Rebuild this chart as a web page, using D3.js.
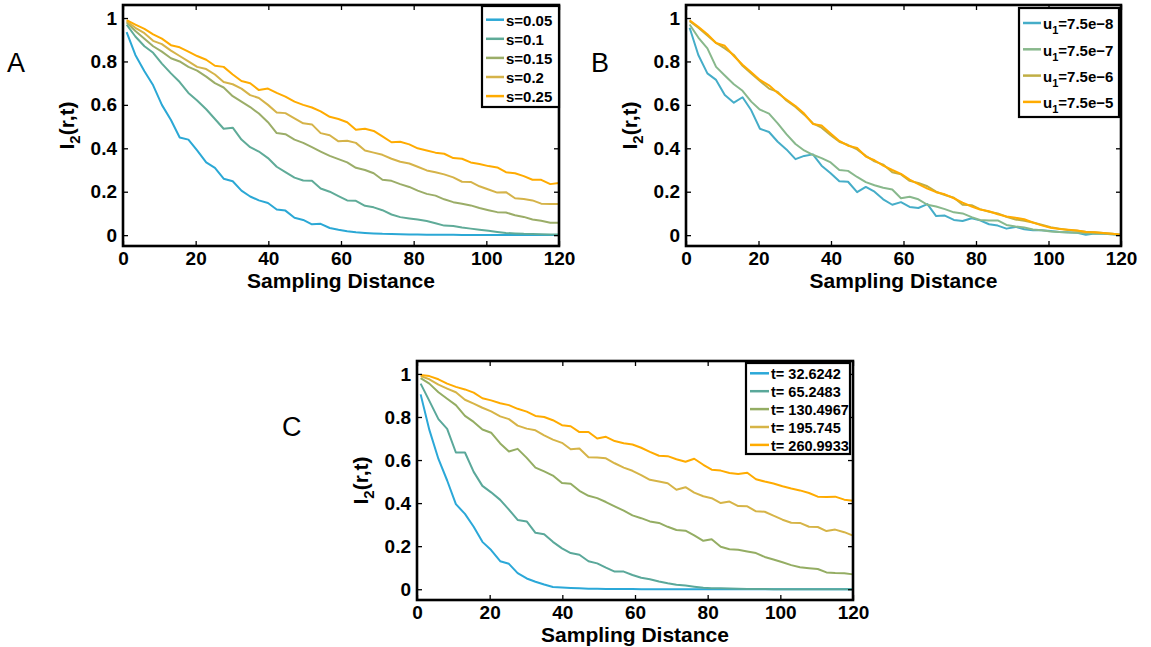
<!DOCTYPE html>
<html>
<head>
<meta charset="utf-8">
<script src="https://cdn.jsdelivr.net/npm/d3@7"></script>
<style>
  body { margin: 0; background: #fff; }
  svg text { font-family: "Liberation Sans", Arial, Helvetica, sans-serif; }
</style>
</head>
<body>
<svg id="fig" width="1151" height="647"></svg>
<script>
// sampling distances shared by every curve
const distance = [1, 3.4, 5.9, 8.3, 10.7, 13.2, 15.6, 18, 20.4, 22.9,
  25.3, 27.7, 30.2, 32.6, 35, 37.4, 39.9, 42.3, 44.7, 47.2,
  49.6, 52, 54.4, 56.9, 59.3, 61.7, 64.1, 66.6, 69, 71.4,
  73.9, 76.3, 78.8, 81.1, 83.6, 86, 88.4, 90.9, 93.3, 95.7,
  98.1, 100.6, 103, 105.4, 107.9, 110.3, 112.7, 115.1, 117.6, 120];

const xTicks = [0, 20, 40, 60, 80, 100, 120];
const yTicks = [0, 0.2, 0.4, 0.6, 0.8, 1];

// panel A : varying s
const sLabels = ["s=0.05", "s=0.1", "s=0.15", "s=0.2", "s=0.25"];
const aS005 = [0.935, 0.83, 0.755, 0.69, 0.60, 0.53, 0.45, 0.44, 0.39, 0.335,
  0.31, 0.26, 0.248, 0.205, 0.178, 0.16, 0.148, 0.118, 0.113, 0.08,
  0.07, 0.05, 0.052, 0.033, 0.025, 0.018, 0.013, 0.01, 0.008, 0.006,
  0.005, 0.004, 0.003, 0.003, 0.002, 0.002, 0.002, 0.002, 0.001, 0.001,
  0.001, 0.001, 0.001, 0.001, 0.001, 0.001, 0.001, 0.001, 0.001, 0.001];
const aS010 = [0.97, 0.915, 0.87, 0.84, 0.79, 0.745, 0.705, 0.655, 0.62, 0.58,
  0.535, 0.49, 0.495, 0.44, 0.405, 0.385, 0.355, 0.315, 0.29, 0.265,
  0.252, 0.25, 0.215, 0.20, 0.18, 0.16, 0.158, 0.135, 0.128, 0.115,
  0.095, 0.083, 0.077, 0.072, 0.065, 0.055, 0.044, 0.042, 0.035, 0.03,
  0.025, 0.02, 0.015, 0.01, 0.008, 0.006, 0.005, 0.004, 0.003, 0.003];
const aS015 = [0.98, 0.94, 0.905, 0.87, 0.845, 0.815, 0.80, 0.775, 0.758, 0.73,
  0.70, 0.68, 0.64, 0.615, 0.59, 0.56, 0.52, 0.47, 0.465, 0.44,
  0.425, 0.405, 0.385, 0.365, 0.35, 0.335, 0.31, 0.30, 0.285, 0.255,
  0.25, 0.235, 0.222, 0.205, 0.19, 0.182, 0.165, 0.152, 0.145, 0.137,
  0.125, 0.115, 0.106, 0.104, 0.092, 0.084, 0.072, 0.066, 0.057, 0.057];
const aS020 = [0.985, 0.955, 0.93, 0.895, 0.88, 0.85, 0.825, 0.80, 0.775, 0.765,
  0.74, 0.705, 0.695, 0.675, 0.645, 0.632, 0.60, 0.565, 0.562, 0.538,
  0.515, 0.51, 0.47, 0.46, 0.432, 0.435, 0.425, 0.39, 0.38, 0.37,
  0.352, 0.338, 0.33, 0.315, 0.298, 0.29, 0.28, 0.266, 0.246, 0.245,
  0.225, 0.21, 0.196, 0.198, 0.17, 0.166, 0.16, 0.145, 0.143, 0.143];
const aS025 = [0.99, 0.97, 0.95, 0.925, 0.905, 0.875, 0.865, 0.845, 0.825, 0.808,
  0.78, 0.775, 0.74, 0.71, 0.70, 0.668, 0.675, 0.655, 0.638, 0.615,
  0.60, 0.588, 0.57, 0.545, 0.535, 0.52, 0.485, 0.49, 0.48, 0.455,
  0.428, 0.43, 0.418, 0.40, 0.39, 0.38, 0.375, 0.355, 0.352, 0.335,
  0.328, 0.318, 0.312, 0.29, 0.285, 0.272, 0.255, 0.255, 0.235, 0.24];

// panel B : varying u1
const uValues = ["7.5e\u22128", "7.5e\u22127", "7.5e\u22126", "7.5e\u22125"];
const bU8 = [0.955, 0.83, 0.745, 0.715, 0.645, 0.61, 0.635, 0.575, 0.49, 0.475,
  0.43, 0.395, 0.35, 0.365, 0.372, 0.32, 0.285, 0.248, 0.246, 0.198,
  0.222, 0.20, 0.165, 0.14, 0.152, 0.13, 0.125, 0.143, 0.088, 0.09,
  0.07, 0.065, 0.078, 0.068, 0.05, 0.044, 0.03, 0.038, 0.027, 0.023,
  0.023, 0.019, 0.015, 0.013, 0.011, 0.002, 0.008, 0.006, 0.004, 0.001];
const bU7 = [0.97, 0.91, 0.86, 0.775, 0.735, 0.695, 0.665, 0.615, 0.578, 0.56,
  0.515, 0.465, 0.42, 0.39, 0.37, 0.355, 0.335, 0.30, 0.296, 0.268,
  0.244, 0.23, 0.218, 0.21, 0.17, 0.177, 0.165, 0.14, 0.132, 0.12,
  0.105, 0.10, 0.083, 0.07, 0.068, 0.068, 0.047, 0.04, 0.035, 0.026,
  0.022, 0.017, 0.014, 0.012, 0.011, 0.009, 0.008, 0.006, 0.004, 0.001];
const bU6 = [0.985, 0.955, 0.92, 0.885, 0.86, 0.83, 0.78, 0.745, 0.71, 0.675,
  0.66, 0.62, 0.59, 0.555, 0.515, 0.495, 0.46, 0.43, 0.415, 0.395,
  0.365, 0.34, 0.325, 0.29, 0.28, 0.25, 0.24, 0.225, 0.20, 0.185,
  0.172, 0.14, 0.138, 0.12, 0.108, 0.10, 0.085, 0.072, 0.066, 0.058,
  0.048, 0.036, 0.03, 0.024, 0.02, 0.016, 0.013, 0.01, 0.006, 0.002];
const bU5 = [0.99, 0.96, 0.925, 0.885, 0.872, 0.825, 0.785, 0.75, 0.715, 0.69,
  0.655, 0.625, 0.595, 0.56, 0.512, 0.505, 0.468, 0.434, 0.412, 0.402,
  0.362, 0.345, 0.32, 0.30, 0.282, 0.256, 0.235, 0.214, 0.198, 0.188,
  0.17, 0.15, 0.132, 0.118, 0.11, 0.096, 0.086, 0.08, 0.073, 0.058,
  0.045, 0.034, 0.028, 0.025, 0.021, 0.015, 0.013, 0.01, 0.006, 0.002];

// panel C : varying t
const tLabels = ["t= 32.6242", "t= 65.2483", "t= 130.4967", "t= 195.745", "t= 260.9933"];
const cT1 = [0.905, 0.74, 0.605, 0.505, 0.395, 0.35, 0.29, 0.22, 0.182, 0.13,
  0.118, 0.075, 0.05, 0.035, 0.022, 0.01, 0.008, 0.006, 0.004, 0.002,
  0.002, 0.001, 0.001, 0.001, 0.001, 0, 0, 0, 0, 0,
  0, 0, 0, 0, 0, 0, 0, 0, 0, 0,
  0, 0, 0, 0, 0, 0, 0, 0, 0, 0];
const cT2 = [0.955, 0.875, 0.79, 0.745, 0.635, 0.635, 0.545, 0.48, 0.45, 0.415,
  0.37, 0.322, 0.315, 0.262, 0.255, 0.22, 0.19, 0.168, 0.16, 0.13,
  0.12, 0.10, 0.082, 0.082, 0.066, 0.053, 0.046, 0.036, 0.028, 0.021,
  0.017, 0.012, 0.007, 0.005, 0.004, 0.003, 0.002, 0.001, 0.001, 0.001,
  0, 0, 0, 0, 0, 0, 0, 0, 0, 0];
const cT3 = [0.98, 0.955, 0.915, 0.885, 0.855, 0.805, 0.777, 0.742, 0.727, 0.677,
  0.64, 0.652, 0.61, 0.565, 0.547, 0.528, 0.493, 0.49, 0.457, 0.434,
  0.423, 0.405, 0.385, 0.365, 0.343, 0.33, 0.315, 0.308, 0.29, 0.275,
  0.272, 0.25, 0.225, 0.232, 0.197, 0.186, 0.183, 0.175, 0.168, 0.15,
  0.138, 0.125, 0.112, 0.102, 0.098, 0.094, 0.078, 0.075, 0.074, 0.069];
const cT4 = [0.99, 0.975, 0.95, 0.932, 0.915, 0.88, 0.862, 0.843, 0.826, 0.803,
  0.79, 0.76, 0.746, 0.738, 0.715, 0.695, 0.68, 0.65, 0.654, 0.613,
  0.612, 0.608, 0.585, 0.565, 0.55, 0.53, 0.508, 0.50, 0.492, 0.462,
  0.474, 0.449, 0.432, 0.423, 0.40, 0.407, 0.386, 0.385, 0.362, 0.36,
  0.342, 0.323, 0.309, 0.308, 0.29, 0.289, 0.27, 0.277, 0.265, 0.249];
const cT5 = [0.995, 0.99, 0.975, 0.955, 0.94, 0.928, 0.913, 0.887, 0.877, 0.864,
  0.855, 0.838, 0.825, 0.805, 0.80, 0.785, 0.762, 0.757, 0.73, 0.73,
  0.70, 0.708, 0.688, 0.678, 0.672, 0.657, 0.638, 0.62, 0.618, 0.604,
  0.592, 0.606, 0.578, 0.555, 0.551, 0.54, 0.535, 0.541, 0.511, 0.50,
  0.491, 0.478, 0.468, 0.459, 0.447, 0.43, 0.428, 0.43, 0.416, 0.411];

const svg = d3.select("#fig");
const FONT = '"Liberation Sans", Arial, Helvetica, sans-serif';

function styleAxis(g, size) {
  g.attr("font-size", size).attr("font-weight", "bold").attr("font-family", FONT);
  g.select(".domain").remove();
  g.selectAll(".tick line").attr("stroke", "#000").attr("stroke-width", 1.3);
  g.selectAll(".tick text").attr("fill", "#000");
}

function drawPanel(p) {
  const x = d3.scaleLinear().domain([0, 120]).range([p.left, p.right]);
  const y = d3.scaleLinear().domain([-0.05, 1.06]).range([p.bottom, p.top]);
  const g = svg.append("g");

  // curves
  const line = d3.line().x((d, i) => x(distance[i])).y(d => y(d));
  p.series.forEach((s, k) => {
    g.append("path").datum(s)
      .attr("d", line)
      .attr("fill", "none")
      .attr("stroke", p.colors[k])
      .attr("stroke-width", 2)
      .attr("stroke-linejoin", "round");
  });

  // ticks point inward on all four sides
  const yFmt = d => d === 0 ? "0" : d === 1 ? "1" : d3.format(".1f")(d);
  const bx = g.append("g").attr("transform", `translate(0,${p.bottom})`)
    .call(d3.axisBottom(x).tickValues(xTicks).tickSizeInner(-5).tickSizeOuter(0).tickPadding(6).tickFormat(d3.format("d")));
  styleAxis(bx, 19);
  const tx = g.append("g").attr("transform", `translate(0,${p.top})`)
    .call(d3.axisTop(x).tickValues(xTicks).tickSizeInner(-5).tickSizeOuter(0).tickFormat(""));
  styleAxis(tx, 19);
  const ly = g.append("g").attr("transform", `translate(${p.left},0)`)
    .call(d3.axisLeft(y).tickValues(yTicks).tickSizeInner(-5).tickSizeOuter(0).tickPadding(6).tickFormat(yFmt));
  styleAxis(ly, 19);
  const ry = g.append("g").attr("transform", `translate(${p.right},0)`)
    .call(d3.axisRight(y).tickValues(yTicks).tickSizeInner(-5).tickSizeOuter(0).tickFormat(""));
  styleAxis(ry, 19);

  // box
  g.append("rect")
    .attr("x", p.left).attr("y", p.top)
    .attr("width", p.right - p.left).attr("height", p.bottom - p.top)
    .attr("fill", "none").attr("stroke", "#000").attr("stroke-width", 2.6);

  // axis titles
  g.append("text")
    .attr("x", (p.left + p.right) / 2).attr("y", p.bottom + 42)
    .attr("text-anchor", "middle").attr("font-size", 21).attr("font-weight", "bold")
    .text("Sampling Distance");
  const yt = g.append("text")
    .attr("transform", `translate(${p.left - 49},${(p.top + p.bottom) / 2}) rotate(-90)`)
    .attr("text-anchor", "middle").attr("font-size", 21).attr("font-weight", "bold");
  yt.append("tspan").text("I");
  yt.append("tspan").attr("dy", 6).attr("font-size", 15).text("2");
  yt.append("tspan").attr("dy", -6).text("(r,t)");

  // panel letter
  svg.append("text").attr("x", p.letterX).attr("y", p.letterY)
    .attr("font-size", 27).text(p.letter);

  // legend
  const L = p.legend;
  const lg = svg.append("g");
  lg.append("rect")
    .attr("x", L.x).attr("y", L.y).attr("width", L.w).attr("height", L.h)
    .attr("fill", "#fff").attr("stroke", "#000").attr("stroke-width", 2.2);
  p.labels.forEach((lab, k) => {
    const ry0 = L.row0 + k * L.step;
    lg.append("line")
      .attr("x1", L.lx0).attr("x2", L.lx1).attr("y1", ry0).attr("y2", ry0)
      .attr("stroke", p.colors[k]).attr("stroke-width", 2.5);
    const t = lg.append("text")
      .attr("x", L.tx).attr("y", ry0).attr("dy", "0.42em")
      .attr("font-size", L.fs).attr("font-weight", "bold");
    if (p.sub) {
      t.append("tspan").text("u");
      t.append("tspan").attr("dy", 5).attr("font-size", 11).text("1");
      t.append("tspan").attr("dy", -5).text("=" + lab);
    } else {
      t.text(lab);
    }
  });
}

const colorsA = ["#2ba8d5", "#5fab98", "#9bad68", "#d5b349", "#ffab00"];
const colorsB = ["#45adc8", "#88b88c", "#c0ae44", "#ffab00"];
const colorsC = ["#2ba8d8", "#5aa89a", "#94ad63", "#d6b447", "#ffab00"];

drawPanel({
  left: 123, right: 559, top: 5, bottom: 246,
  series: [aS005, aS010, aS015, aS020, aS025], colors: colorsA, labels: sLabels,
  letter: "A", letterX: 7, letterY: 72,
  legend: { x: 482, y: 6, w: 77, h: 101, row0: 19.7, step: 19.1, lx0: 486, lx1: 504, tx: 506, fs: 15 }
});

drawPanel({
  left: 686, right: 1121, top: 5, bottom: 246,
  series: [bU8, bU7, bU6, bU5], colors: colorsB, labels: uValues, sub: true,
  letter: "B", letterX: 591, letterY: 72,
  legend: { x: 1019, y: 8, w: 100, h: 109, row0: 23, step: 26.3, lx0: 1023, lx1: 1041, tx: 1043, fs: 15 }
});

drawPanel({
  left: 417, right: 853, top: 361, bottom: 600,
  series: [cT1, cT2, cT3, cT4, cT5], colors: colorsC, labels: tLabels,
  letter: "C", letterX: 282, letterY: 436,
  legend: { x: 746, y: 363, w: 104, h: 91, row0: 373.3, step: 17.9, lx0: 750, lx1: 769, tx: 771, fs: 14.5 }
});
</script>
</body>
</html>
